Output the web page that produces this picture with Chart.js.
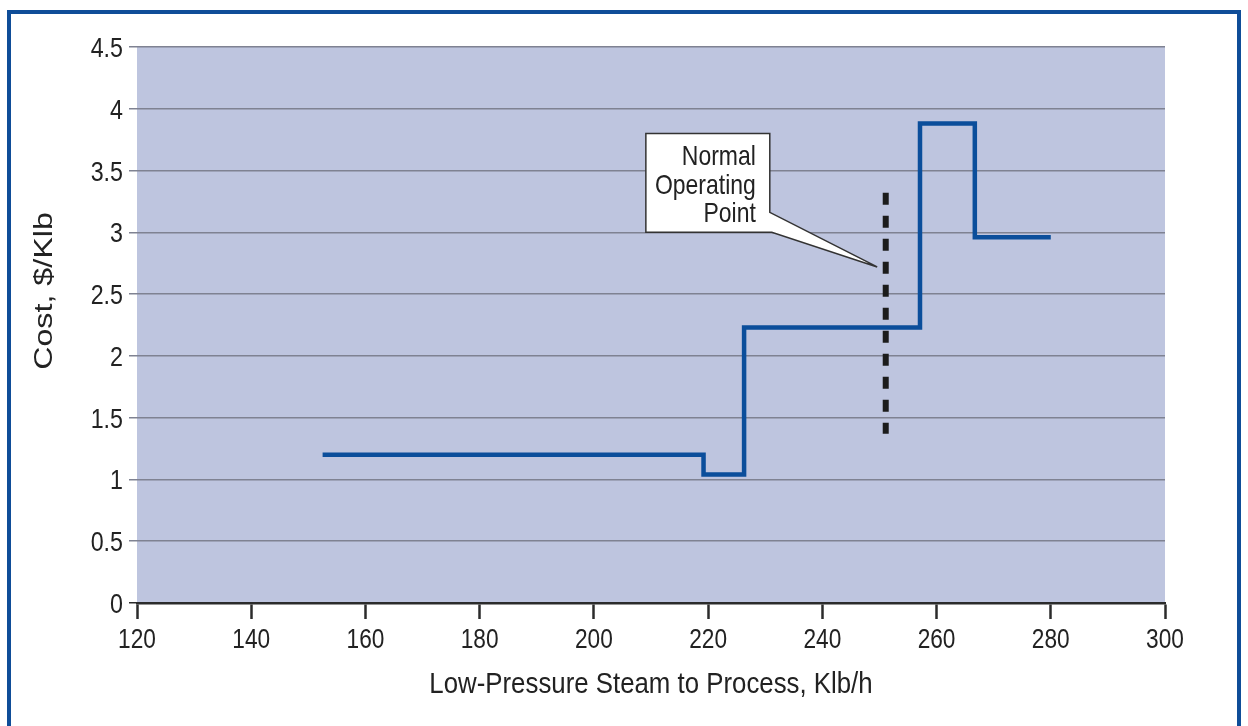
<!DOCTYPE html>
<html>
<head>
<meta charset="utf-8">
<script src="https://cdn.jsdelivr.net/npm/chart.js@4.4.1/dist/chart.umd.min.js"></script>
<style>
html, body { margin: 0; padding: 0; background: #fff; }
</style>
</head>
<body>
<canvas id="costChart" width="1248" height="726"></canvas>
<script>
// step curve: each point starts a new cost level (drawn with stepped 'before')
const steamFlow = [152.5, 219.2, 226.3, 257.1, 266.7, 280];
const costLevel = [1.2, 1.04, 2.23, 3.88, 2.96, 2.96];

// vertical dashed marker for the normal operating point
const opFlow = [251.1, 251.1];
const opCost = [3.32, 1.37];

const xTickValues = [120, 140, 160, 180, 200, 220, 240, 260, 280, 300];
const yTickValues = [0, 0.5, 1, 1.5, 2, 2.5, 3, 3.5, 4, 4.5];

const xTitle = "Low-Pressure Steam to Process, Klb/h";
const yTitle = "Cost, $/Klb";

// callout box (data units): [xMin, xMax, yMin, yMax], pointer tip, text
const calloutBox = [209.1, 230.8, 3.0, 3.8];
const calloutTip = [249.6, 2.72];
const calloutLines = ["Normal", "Operating", "Point"];

const face = "'Liberation Sans', Arial, sans-serif";
const ink = "#222222";
const blue = "#0b4e9b";

// the original uses a condensed Helvetica; squeeze Liberation Sans horizontally
function condensedText(ctx, text, x, y, align, size, squeeze) {
    ctx.save();
    ctx.translate(x, y);
    ctx.scale(squeeze, 1);
    ctx.font = size + "px " + face;
    ctx.fillStyle = ink;
    ctx.textAlign = align;
    ctx.textBaseline = "alphabetic";
    ctx.fillText(text, 0, 0);
    ctx.restore();
}

const plotBackground = {
    id: "plotBackground",
    beforeDraw(chart) {
        const { ctx, chartArea } = chart;
        ctx.save();
        ctx.fillStyle = "#bec5df";
        ctx.fillRect(chartArea.left, chartArea.top, chartArea.right - chartArea.left, chartArea.bottom - chartArea.top);
        ctx.restore();
    }
};

const labels = {
    id: "labels",
    afterDraw(chart) {
        const { ctx, scales } = chart;
        const x = scales.x, y = scales.y;
        // tick labels
        xTickValues.forEach(v => {
            condensedText(ctx, String(v), x.getPixelForValue(v), x.top + 45, "center", 28, 0.81);
        });
        yTickValues.forEach(v => {
            condensedText(ctx, String(v), y.right - 14, y.getPixelForValue(v) + 10, "right", 28, 0.83);
        });
        // axis titles
        condensedText(ctx, xTitle, (x.left + x.right) / 2, x.top + 90, "center", 29, 0.89);
        ctx.save();
        ctx.translate(45, 291);
        ctx.rotate(-Math.PI / 2);
        ctx.scale(1.29, 1);
        ctx.fillStyle = ink;
        ctx.font = "25px " + face;
        ctx.textAlign = "center";
        ctx.textBaseline = "middle";
        ctx.fillText(yTitle, 0, 0);
        ctx.restore();
        // blue frame around the figure (bottom edge runs off the picture)
        ctx.save();
        ctx.strokeStyle = "#0f4d98";
        ctx.lineWidth = 4;
        ctx.strokeRect(9, 12, 1230, 740);
        ctx.restore();
    }
};

const callout = {
    id: "callout",
    afterDatasetsDraw(chart) {
        const { ctx, scales } = chart;
        const x = scales.x, y = scales.y;
        const l = x.getPixelForValue(calloutBox[0]), r = x.getPixelForValue(calloutBox[1]);
        const b = y.getPixelForValue(calloutBox[2]), t = y.getPixelForValue(calloutBox[3]);
        const tx = x.getPixelForValue(calloutTip[0]), ty = y.getPixelForValue(calloutTip[1]);
        ctx.save();
        ctx.beginPath();
        ctx.moveTo(l, t);
        ctx.lineTo(r, t);
        ctx.lineTo(r, b - 20);
        ctx.lineTo(tx, ty);
        ctx.lineTo(r + 2, b);
        ctx.lineTo(l, b);
        ctx.closePath();
        ctx.fillStyle = "#ffffff";
        ctx.fill();
        ctx.strokeStyle = "#333333";
        ctx.lineWidth = 1.5;
        ctx.lineJoin = "miter";
        ctx.stroke();
        ctx.restore();
        calloutLines.forEach((line, i) => {
            condensedText(ctx, line, r - 14, t + 32 + i * 28.4, "right", 28, 0.82);
        });
    }
};

new Chart(document.getElementById("costChart"), {
    type: "line",
    data: {
        datasets: [{
            label: "Cost",
            data: steamFlow.map((v, i) => ({ x: v, y: costLevel[i] })),
            borderColor: blue,
            borderWidth: 4.5,
            stepped: "before",
            pointRadius: 0,
            fill: false,
            borderJoinStyle: "miter",
            borderCapStyle: "butt"
        }, {
            label: "Normal Operating Point",
            data: opFlow.map((v, i) => ({ x: v, y: opCost[i] })),
            borderColor: "#1c1c1c",
            borderWidth: 6,
            borderDash: [12, 11],
            pointRadius: 0,
            fill: false
        }]
    },
    options: {
        responsive: false,
        animation: false,
        events: [],
        layout: { padding: { left: 0, top: 47, right: 83, bottom: 0 } },
        plugins: {
            legend: { display: false },
            tooltip: { enabled: false }
        },
        scales: {
            x: {
                type: "linear",
                min: 120,
                max: 300,
                afterBuildTicks: s => { s.ticks = xTickValues.map(v => ({ value: v })); },
                afterFit: s => { s.height = 123; },
                ticks: { display: false },
                grid: {
                    drawOnChartArea: false,
                    drawTicks: true,
                    tickLength: 16,
                    tickWidth: 2.5,
                    tickColor: "#2b2b2b"
                },
                border: { display: true, color: "#2b2b2b", width: 2.5 },
                title: { display: false }
            },
            y: {
                type: "linear",
                min: 0,
                max: 4.5,
                afterBuildTicks: s => { s.ticks = yTickValues.map(v => ({ value: v })); },
                afterFit: s => { s.width = 137; },
                ticks: { display: false },
                grid: {
                    color: ctx => ctx.tick && ctx.tick.value === 0 ? "rgba(0,0,0,0)" : "#7f8292",
                    tickColor: ctx => ctx.tick && ctx.tick.value === 0 ? "#2b2b2b" : "#7f8292",
                    lineWidth: 1.5,
                    tickLength: 8
                },
                border: { display: false }
            }
        }
    },
    plugins: [plotBackground, callout, labels]
});
</script>
</body>
</html>
